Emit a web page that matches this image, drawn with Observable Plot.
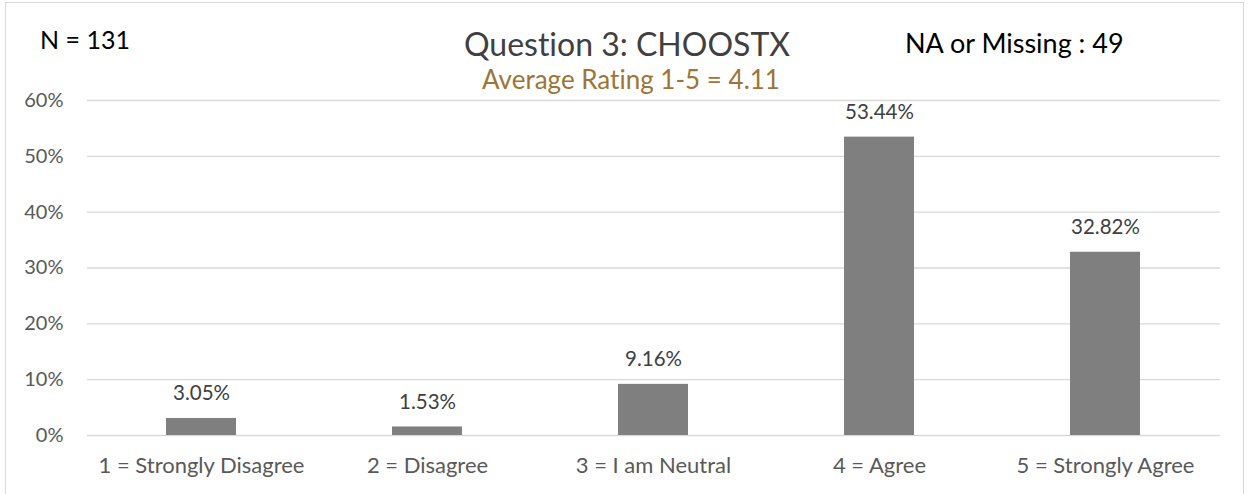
<!DOCTYPE html>
<html><head><meta charset="utf-8">
<script src="https://cdn.jsdelivr.net/npm/d3@7"></script>
<script src="https://cdn.jsdelivr.net/npm/@observablehq/plot@0.6"></script>
<style>
body{margin:0;background:#fff;font-family:Lato,sans-serif;font-variant-ligatures:none}
#wrap{position:relative;width:1249px;height:494px;overflow:hidden;background:#fff}
#frame{position:absolute;left:5px;top:2px;width:1239px;height:520px;border:1px solid #d9d9d9;box-sizing:border-box}
.lbl{position:absolute;white-space:nowrap;line-height:1;font-variant-ligatures:none}
#chart{position:absolute;left:0;top:0}
#chart svg text{font-variant-ligatures:none}
</style></head><body>
<div id="wrap">
<div id="frame"></div>
<div id="chart"></div>
<div class="lbl" style="left:40px;top:27px;font-size:25px;color:#000">N = 131</div>
<div class="lbl" style="left:905px;top:29px;font-size:27px;color:#000">NA or Missing : 49</div>
<div class="lbl" style="left:627px;top:28px;font-size:32px;color:#404040;transform:translateX(-50%)">Question 3: CHOOSTX</div>
<div class="lbl" style="left:631px;top:66px;font-size:26px;color:#9e7535;transform:translateX(-50%)">Average Rating 1-5 = 4.11</div>
</div>
<script>
const categories = ["1 = Strongly Disagree","2 = Disagree","3 = I am Neutral","4 = Agree","5 = Strongly Agree"];
const percents = [3.05, 1.53, 9.16, 53.44, 32.82];
const yTicks = [0, 10, 20, 30, 40, 50, 60];
const data = categories.map((c, i) => ({category: c, value: percents[i]}));

const chart = Plot.plot({
  width: 1249, height: 494,
  marginTop: 100, marginBottom: 59, marginLeft: 87, marginRight: 29,
  style: {fontFamily: "Lato, sans-serif", fontSize: "20px", color: "#595959", background: "transparent", overflow: "visible"},
  x: {domain: categories, paddingInner: 0.69, paddingOuter: 0.345, label: null, axis: null},
  y: {domain: [0, 60], label: null, axis: null},
  marks: [
    Plot.gridY(yTicks, {stroke: "#d9d9d9", strokeOpacity: 1, strokeWidth: 1.3}),
    Plot.axisY(yTicks, {tickSize: 0, tickPadding: 24, tickFormat: d => d + "%", fontSize: 20, fill: "#595959", label: null}),
    Plot.axisX(categories, {tickSize: 0, tickPadding: 22, fontSize: 22, fill: "#595959", label: null}),
    Plot.barY(data, {x: "category", y: "value", fill: "#7f7f7f"}),
    Plot.text(data, {x: "category", y: "value", text: d => d.value.toFixed(2) + "%", lineAnchor: "bottom", dy: -18, fill: "#404040", fontSize: 20.5})
  ]
});
document.getElementById("chart").appendChild(chart);
</script>
</body></html>
